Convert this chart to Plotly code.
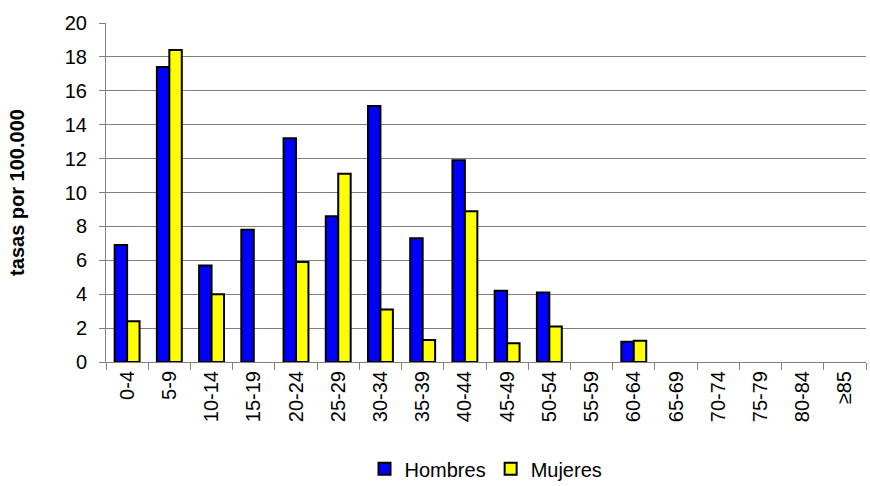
import plotly.graph_objects as go

# Grupos de edad y tasas por 100.000
grupos = ["0-4", "5-9", "10-14", "15-19", "20-24", "25-29", "30-34", "35-39",
          "40-44", "45-49", "50-54", "55-59", "60-64", "65-69", "70-74",
          "75-79", "80-84", "≥85"]
hombres = [6.9, 17.4, 5.7, 7.8, 13.2, 8.6, 15.1, 7.3, 11.9, 4.2, 4.1, 0, 1.2,
           0, 0, 0, 0, 0]
mujeres = [2.4, 18.4, 4.0, 0, 5.9, 11.1, 3.1, 1.3, 8.9, 1.1, 2.1, 0, 1.25,
           0, 0, 0, 0, 0]
y_ticks = list(range(0, 21, 2))


def bordes(valores):
    # sin borde para barras de valor cero
    return [2 if v > 0 else 0 for v in valores]


fig = go.Figure()
fig.add_trace(go.Bar(x=grupos, y=hombres, name="Hombres",
                     marker=dict(color="#0000ff",
                                 line=dict(color="black", width=bordes(hombres)))))
fig.add_trace(go.Bar(x=grupos, y=mujeres, name="Mujeres",
                     marker=dict(color="#ffff00",
                                 line=dict(color="black", width=bordes(mujeres)))))

fig.update_layout(
    width=870, height=486,
    margin=dict(l=106, r=4, t=23, b=124, autoexpand=False),
    plot_bgcolor="white", paper_bgcolor="white",
    font=dict(family="Liberation Sans, Arial", size=20, color="black"),
    barmode="group", bargap=0.41, bargroupgap=0,
    showlegend=True,
    legend=dict(orientation="h", x=0.5, xanchor="center", y=-0.315, yanchor="middle",
                font=dict(size=20), itemwidth=30, tracegroupgap=0),
    xaxis=dict(tickangle=-90, showline=True, linecolor="#808080", linewidth=1,
               ticks="outside", tickson="boundaries", ticklen=7, tickcolor="#808080",
               automargin=False),
    yaxis=dict(range=[0, 20], tickvals=y_ticks, showgrid=True, gridcolor="#808080",
               gridwidth=1, showline=True, linecolor="#808080", linewidth=1,
               ticks="outside", ticklen=6, tickcolor="#808080", zeroline=False,
               ticklabelstandoff=8, automargin=False,
               title=dict(text="<b>tasas por 100.000</b>", font=dict(size=20),
                          standoff=34)),
)

# sin margen ni espacio extra en la página, para que la figura llene la ventana
ajuste = ("document.body.style.margin='0';"
          "document.body.style.lineHeight='0';"
          "document.body.style.fontSize='0';"
          "document.body.style.overflow='hidden';"
          "document.documentElement.style.overflow='hidden';")
fig.write_html("out.html", config={"displayModeBar": False}, post_script=ajuste)
